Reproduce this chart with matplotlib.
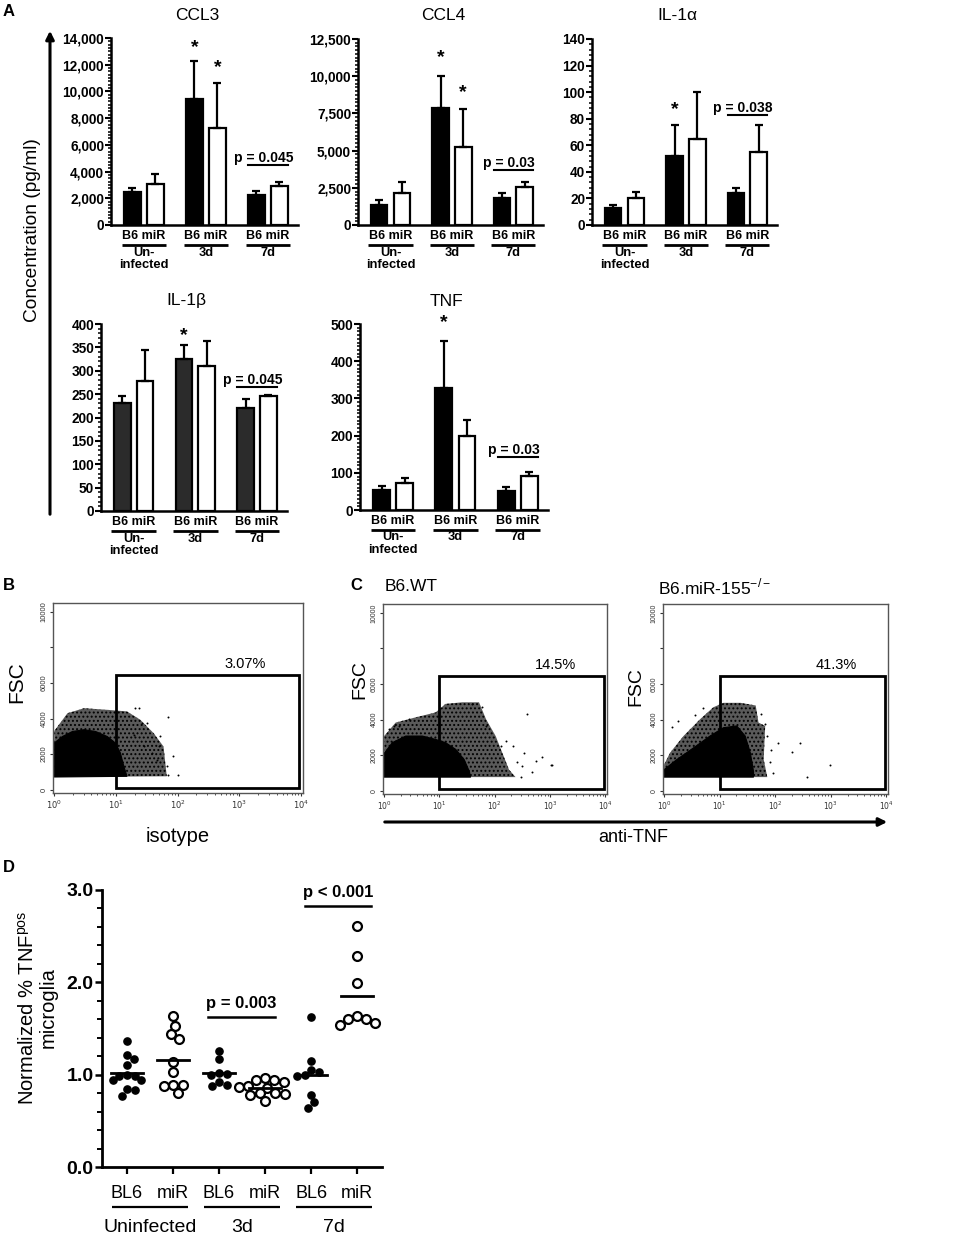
import numpy as np
import matplotlib
matplotlib.use("Agg")
import matplotlib.pyplot as plt
from matplotlib.ticker import MultipleLocator, LogLocator, NullFormatter
from matplotlib.transforms import ScaledTranslation
from matplotlib.patches import Rectangle, Polygon, FancyArrowPatch

plt.rcParams['font.family'] = ['Liberation Sans', 'DejaVu Sans']
plt.rcParams['hatch.linewidth'] = 0.9

W, H = 957, 1237
fig = plt.figure(figsize=(W / 100, H / 100), dpi=100)


def add_ax(l, t, r, b):
    return fig.add_axes([l / W, 1 - b / H, (r - l) / W, (b - t) / H])


# ----- panel A data (mean, error bar length) -----
groups = ["Un-\ninfected", "3d", "7d"]

ccl3_b6 = [2450, 9450, 2230]
ccl3_b6_err = [300, 2850, 350]
ccl3_mir = [3050, 7250, 2950]
ccl3_mir_err = [750, 3350, 300]

ccl4_b6 = [1350, 7850, 1820]
ccl4_b6_err = [310, 2180, 360]
ccl4_mir = [2130, 5270, 2580]
ccl4_mir_err = [740, 2520, 290]

il1a_b6 = [12.6, 52, 24]
il1a_b6_err = [2.4, 23, 3.6]
il1a_mir = [20, 65, 55]
il1a_mir_err = [4.6, 35, 20]

il1b_b6 = [232, 326, 220]
il1b_b6_err = [13, 30, 20]
il1b_mir = [279, 311, 245]
il1b_mir_err = [66, 52, 3]

tnf_b6 = [54, 328, 51]
tnf_b6_err = [11.5, 125, 12]
tnf_mir = [73.6, 199, 92.5]
tnf_mir_err = [11.4, 43, 10.5]

# ----- panel D data -----
d_labels = ["BL6", "miR", "BL6", "miR", "BL6", "miR"]
d_groups = ["Uninfected", "3d", "7d"]
uninf_bl6 = [1.37, 1.21, 1.17, 1.11, 1.00, 0.99, 0.99, 0.94, 0.94, 0.84, 0.83, 0.77]
uninf_mir = [1.63, 1.53, 1.44, 1.39, 1.14, 1.03, 0.89, 0.89, 0.88, 0.80]
d3_bl6 = [1.26, 1.17, 1.02, 1.01, 1.00, 0.92, 0.89, 0.88]
d3_mir = [0.96, 0.94, 0.94, 0.92, 0.88, 0.87, 0.86, 0.80, 0.80, 0.79, 0.78, 0.71]
d7_bl6 = [1.62, 1.15, 1.05, 1.03, 1.00, 0.99, 0.78, 0.70, 0.64]
d7_mir = [2.61, 2.28, 1.99, 1.63, 1.60, 1.60, 1.56, 1.54]

# ----- panels B/C: outlines of the dense event cloud, speckled halo and single events -----
iso_core_x = [1, 1, 1.36, 1.97, 3.04, 4.68, 7.21, 9.8, 11.8, 13.4, 15.1]
iso_core_y = [710, 2620, 2990, 3270, 3370, 3270, 2990, 2620, 2060, 1310, 750]
iso_halo_x = [1, 1, 1.64, 3.04, 7.2, 15.1, 24.8, 40.7, 58.9, 66.5]
iso_halo_y = [710, 3300, 4300, 4580, 4490, 4400, 3930, 3180, 2430, 750]
iso_dots_x = [19.4, 26.4, 49, 70.7, 101, 70.7, 23.2, 20.6, 31.8, 52, 46, 66, 28, 38, 84]
iso_dots_y = [3085, 3740, 2430, 840, 840, 4110, 4580, 4580, 3740, 2990, 1680, 1310, 2430, 2060, 1900]

wt_core_x = [1, 1, 1.41, 2.46, 4.93, 8.55, 12.9, 19.7, 28, 34.7, 36.7]
wt_core_y = [760, 2090, 2700, 3070, 3070, 2880, 2700, 2320, 1750, 1080, 760]
wt_halo_x = [1, 1, 1.62, 3.7, 8.55, 12.9, 25.9, 52, 69.6, 104, 137, 181, 238]
wt_halo_y = [760, 3070, 3830, 4120, 4400, 4880, 4970, 4970, 4020, 3070, 2130, 1180, 760]
wt_dots_x = [387, 210, 335, 721, 1030, 1100, 475, 300, 1.5, 2.8, 39.6, 68.6, 128, 315,
             550, 1.87, 1.23, 60, 160, 250]
wt_dots_y = [4310, 2500, 2090, 1900, 1460, 1420, 1040, 760, 3640, 4020, 4880, 3640, 2500,
             1370, 1650, 3640, 3450, 4700, 2800, 1600]

ko_core_x = [1, 1, 1.7, 3.4, 6.7, 11.7, 20.3, 28.8, 35.6, 40.7, 40.7]
ko_core_y = [760, 1180, 1750, 2410, 3070, 3540, 3640, 3070, 2130, 1080, 760]
ko_halo_x = [1, 1, 1.28, 2.23, 4.45, 7.7, 11.7, 23.7, 44.5, 50, 66, 62, 72]
ko_halo_y = [760, 1460, 2130, 3070, 4020, 4690, 4940, 4940, 4790, 3830, 3640, 1750, 760]
ko_dots_x = [114, 199, 280, 972, 372, 81, 1.37, 1.81, 3.6, 66, 71, 93, 5.1, 56, 85]
ko_dots_y = [2660, 2180, 2660, 1420, 760, 1610, 3600, 3900, 4270, 3740, 3070, 990, 4650,
             4300, 2300]

# ================= panel A =================
def bar_panel(box, title, b6, b6_err, mir, mir_err, ymax, major, minor,
              stars, pline, ptext, b6_color='black'):
    ax = add_ax(*box)
    x = np.arange(len(groups))
    off, w = 0.185, 0.27
    zeros = np.zeros(len(x))
    ax.bar(x - off, b6, w, color=b6_color, edgecolor='black', lw=1.6, zorder=2)
    ax.bar(x + off, mir, w, color='white', edgecolor='black', lw=1.6, zorder=2)
    ax.errorbar(x - off, b6, yerr=[zeros, b6_err], fmt='none', ecolor='black',
                elinewidth=1.6, capsize=3.2, capthick=1.6, zorder=3)
    ax.errorbar(x + off, mir, yerr=[zeros, mir_err], fmt='none', ecolor='black',
                elinewidth=1.6, capsize=3.2, capthick=1.6, zorder=3)
    ax.set_xlim(-0.53, 2.485)
    ax.set_ylim(0, ymax)
    for s in ['top', 'right']:
        ax.spines[s].set_visible(False)
    ax.spines['left'].set_linewidth(1.8)
    ax.spines['bottom'].set_linewidth(1.8)
    ax.set_xticks([])
    ticks = np.arange(0, ymax + 1e-9, major)
    ax.set_yticks(ticks, [f"{int(t):,}" for t in ticks], fontsize=9.8, fontweight='bold')
    ax.yaxis.set_minor_locator(MultipleLocator(minor))
    ax.tick_params(axis='y', which='major', length=4, width=1.5, pad=1)
    ax.tick_params(axis='y', which='minor', length=2.5, width=1.1)
    ax.annotate(title, xy=(0.46, 1), xycoords='axes fraction', xytext=(0, 23),
                textcoords='offset pixels', ha='center', va='center', fontsize=12.5)

    tr = ax.get_xaxis_transform()
    for g, lab in zip(x, groups):
        ax.annotate("B6 miR", xy=(g, 0), xycoords=tr, xytext=(0, -11),
                    textcoords='offset pixels', ha='center', va='center',
                    fontsize=9, fontweight='bold')
        ut = tr + ScaledTranslation(0, -19.5 / 100, fig.dpi_scale_trans)
        ax.plot([g - 0.36, g + 0.36], [0, 0], color='black', lw=2.0,
                transform=ut, clip_on=False, solid_capstyle='butt')
        ax.annotate(lab, xy=(g, 0), xycoords=tr, xytext=(0, -21.5),
                    textcoords='offset pixels', ha='center', va='top',
                    fontsize=9.3, fontweight='bold', linespacing=1.08)

    for gx, side, sy in stars:
        xs = gx - off if side == 'b6' else gx + off
        ax.text(xs, sy, "*", ha='center', va='center', fontsize=14,
                fontweight='bold', clip_on=False)

    ax.plot([2 - off - w / 2, 2 + off + w / 2], [pline, pline], color='black', lw=1.5)
    ax.annotate(ptext, xy=(1.93, pline), xytext=(0, 3), textcoords='offset pixels',
                ha='center', va='baseline', fontsize=10, fontweight='bold')
    return ax


bar_panel((111, 38, 298, 225), "CCL3", ccl3_b6, ccl3_b6_err, ccl3_mir, ccl3_mir_err,
          14000, 2000, 250, [(1, 'b6', 13250), (1, 'mir', 11750)], 4490, "p = 0.045")
bar_panel((358, 39, 543, 225), "CCL4", ccl4_b6, ccl4_b6_err, ccl4_mir, ccl4_mir_err,
          12500, 2500, 250, [(1, 'b6', 11223), (1, 'mir', 8870)], 3696, "p = 0.03")
bar_panel((592, 39, 777, 225), "IL-1\u03b1", il1a_b6, il1a_b6_err, il1a_mir, il1a_mir_err,
          140, 20, 4, [(1, 'b6', 86.6)], 82.8, "p = 0.038")
bar_panel((101, 324, 287, 511), "IL-1\u03b2", il1b_b6, il1b_b6_err, il1b_mir, il1b_mir_err,
          400, 50, 10, [(1, 'b6', 376)], 265, "p = 0.045", b6_color='#2b2b2b')
bar_panel((360, 324, 548, 510), "TNF", tnf_b6, tnf_b6_err, tnf_mir, tnf_mir_err,
          500, 100, 10, [(1, 'b6', 503)], 142.5, "p = 0.03")

fig.add_artist(FancyArrowPatch((50 / W, 1 - 517 / H), (50 / W, 1 - 28 / H),
                               transform=fig.transFigure, arrowstyle='-|>',
                               mutation_scale=12, lw=2.2, color='black'))
fig.text(33 / W, 1 - 230 / H, "Concentration (pg/ml)", rotation=90, ha='center',
         va='center', fontsize=13.8)

# ================= panels B / C =================
def flow_panel(box, core_x, core_y, halo_x, halo_y, dots_x, dots_y, pct, tick_fs=5):
    ax = add_ax(*box)
    ax.set_xscale('log')
    ax.set_xlim(10 ** -0.02, 10 ** 4.03)
    ax.set_ylim(-190, 10500)
    ax.add_patch(Polygon(np.column_stack([halo_x, halo_y]), closed=True,
                         facecolor='#5a5a5a', edgecolor='black', lw=0, hatch='....',
                         zorder=1))
    ax.add_patch(Polygon(np.column_stack([core_x, core_y]), closed=True,
                         facecolor='black', edgecolor='black', lw=0.8, zorder=2))
    ax.scatter(dots_x, dots_y, s=2.0, color='black', lw=0, zorder=2)
    ax.add_patch(Rectangle((10, 100), 10 ** 3.97 - 10, 6450 - 100, facecolor='none',
                           edgecolor='black', lw=2, zorder=3))
    ax.text(10 ** 3.1, 6700, pct, ha='center', va='bottom', fontsize=10.5)
    for s in ax.spines.values():
        s.set_color('#555555')
        s.set_linewidth(1)
    ax.set_xticks([1, 10, 100, 1000, 10000],
                  [r'$10^0$', r'$10^1$', r'$10^2$', r'$10^3$', r'$10^4$'],
                  fontsize=tick_fs + 0.5)
    ax.xaxis.set_minor_locator(LogLocator(base=10, subs=np.arange(2, 10), numticks=20))
    ax.xaxis.set_minor_formatter(NullFormatter())
    yt = [0, 2000, 4000, 6000, 8000, 10000]
    ax.set_yticks(yt, ['0', '2000', '4000', '6000', '', '10000'], fontsize=tick_fs,
                  rotation=90, va='center')
    ax.tick_params(axis='both', which='major', length=2.5, width=0.8, pad=1.5,
                   colors='#333333')
    ax.tick_params(axis='both', which='minor', length=1.5, width=0.6, colors='#333333')
    return ax


flow_panel((53, 603, 303, 793), iso_core_x, iso_core_y, iso_halo_x, iso_halo_y,
           iso_dots_x, iso_dots_y, "3.07%", tick_fs=5.5)
flow_panel((383, 604, 607, 794), wt_core_x, wt_core_y, wt_halo_x, wt_halo_y,
           wt_dots_x, wt_dots_y, "14.5%")
flow_panel((663, 604, 888, 794), ko_core_x, ko_core_y, ko_halo_x, ko_halo_y,
           ko_dots_x, ko_dots_y, "41.3%")

for fx, fy, fs in [(17, 682, 15), (360, 680, 14), (636, 687, 14)]:
    fig.text(fx / W, 1 - fy / H, "FSC", rotation=90, ha='center', va='center', fontsize=fs)
fig.text(178 / W, 1 - 837 / H, "isotype", ha='center', va='center', fontsize=14.5)
fig.text(633 / W, 1 - 838 / H, "anti-TNF", ha='center', va='center', fontsize=13)
fig.text(385 / W, 1 - 587 / H, "B6.WT", ha='left', va='center', fontsize=12.5)
fig.text(658 / W, 1 - 587 / H, r"B6.miR-155$^{\mathregular{-/-}}$", ha='left',
         va='center', fontsize=12.5)
fig.add_artist(FancyArrowPatch((382 / W, 1 - 822 / H), (890 / W, 1 - 822 / H),
                               transform=fig.transFigure, arrowstyle='-|>',
                               mutation_scale=12, lw=2.2, color='black'))

# ================= panel D =================
def swarm(vals, center, diam_px, px_x=46.0, px_y=92.3):
    vals = np.asarray(vals, dtype=float)
    order = np.argsort(-vals)
    placed = []
    xs = np.zeros(len(vals))
    for i in order:
        yv = vals[i] * px_y
        cands = [0.0]
        for (px, py) in placed:
            dy = yv - py
            if abs(dy) < diam_px:
                dx = np.sqrt(diam_px ** 2 - dy ** 2)
                cands += [px + dx, px - dx]
        cands.sort(key=abs)
        for c in cands:
            if all((c - px) ** 2 + (yv - py) ** 2 >= diam_px ** 2 - 1e-6 for px, py in placed):
                break
        placed.append((c, yv))
        xs[i] = center + c / px_x
    return xs


axd = add_ax(102, 890, 382, 1167)
series = [uninf_bl6, uninf_mir, d3_bl6, d3_mir, d7_bl6, d7_mir]
for k, vals in enumerate(series):
    pos = k + 1
    filled = k % 2 == 0
    xs = swarm(vals, pos, 8.0 if filled else 9.5)
    if filled:
        axd.plot(xs, vals, 'o', ms=5.2, color='black', zorder=3)
    else:
        axd.plot(xs, vals, 'o', ms=6.4, mfc='white', mec='black', mew=1.6, zorder=3)
    m = np.mean(vals)
    axd.plot([pos - 0.34, pos + 0.34], [m, m], color='black', lw=2, zorder=4)

axd.set_xlim(0.457, 6.54)
axd.set_ylim(0, 3)
for s in ['top', 'right']:
    axd.spines[s].set_visible(False)
axd.spines['left'].set_linewidth(2)
axd.spines['bottom'].set_linewidth(2)
axd.set_yticks([0, 1, 2, 3], ['0.0', '1.0', '2.0', '3.0'], fontsize=14, fontweight='bold')
axd.yaxis.set_minor_locator(MultipleLocator(0.2))
axd.tick_params(axis='y', which='major', length=5, width=1.8, pad=1)
axd.tick_params(axis='y', which='minor', length=3.5, width=1.4)
axd.set_xticks(np.arange(1, 7), d_labels, fontsize=13)
axd.tick_params(axis='x', length=5, width=1.6, pad=8)

trd = axd.get_xaxis_transform()
ul = trd + ScaledTranslation(0, -40 / 100, fig.dpi_scale_trans)
for j, lab in enumerate(d_groups):
    c = 1.5 + 2 * j
    axd.plot([c - 0.83, c + 0.83], [0, 0], color='black', lw=1.6, transform=ul,
             clip_on=False, solid_capstyle='butt')
    axd.annotate(lab, xy=(c, 0), xycoords=trd, xytext=(0, -60), textcoords='offset pixels',
                 ha='center', va='center', fontsize=14)

for (x0, x1, yv, txt) in [(2.76, 4.22, 1.625, "p = 0.003"), (4.87, 6.31, 2.83, "p < 0.001")]:
    axd.plot([x0, x1], [yv, yv], color='black', lw=1.8)
    axd.annotate(txt, xy=((x0 + x1) / 2, yv), xytext=(0, 6), textcoords='offset pixels',
                 ha='center', va='bottom', fontsize=12, fontweight='bold')

fig.text(38 / W, 1 - 1008 / H, "Normalized % TNF$^{\\mathregular{pos}}$\nmicroglia",
         rotation=90, ha='center', va='center', fontsize=14.5, multialignment='center',
         linespacing=1.05)

# panel letters
for lx, ly, lt in [(9, 12, "A"), (9, 585, "B"), (356, 585, "C"), (9, 868, "D")]:
    fig.text(lx / W, 1 - ly / H, lt, fontsize=12, fontweight='bold', ha='center', va='center')

fig.savefig("out.png", dpi=100)
